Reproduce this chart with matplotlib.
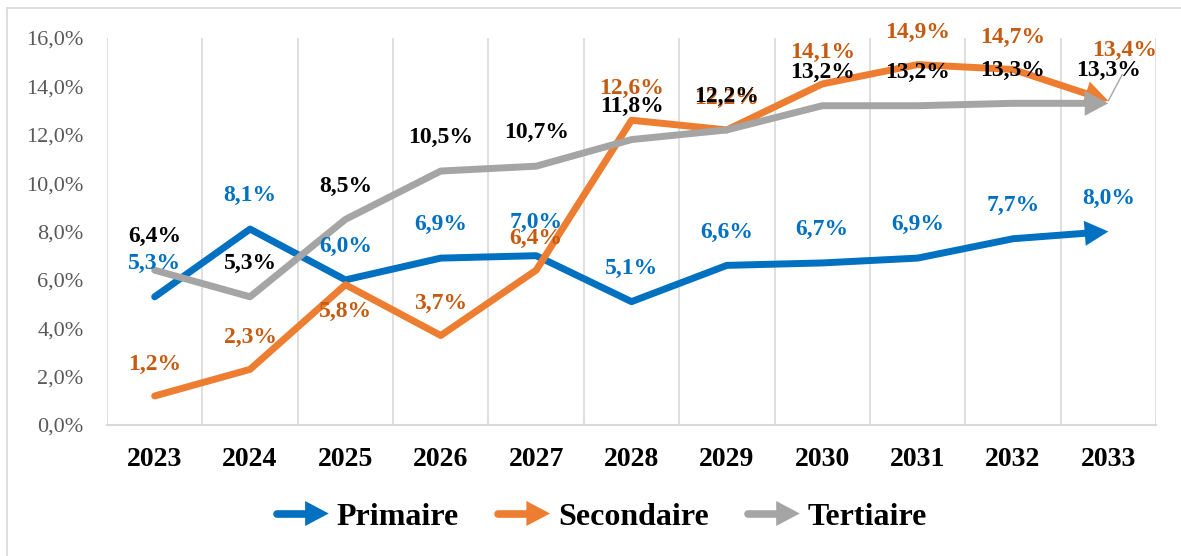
import matplotlib
matplotlib.use("Agg")
import matplotlib.pyplot as plt
from matplotlib.patches import FancyArrowPatch
from matplotlib.legend_handler import HandlerBase
from matplotlib.lines import Line2D

plt.rcParams['font.family'] = ['Liberation Serif', 'DejaVu Serif']

years = ['2023', '2024', '2025', '2026', '2027', '2028', '2029', '2030', '2031', '2032', '2033']
primaire = [5.3, 8.1, 6.0, 6.9, 7.0, 5.1, 6.6, 6.7, 6.9, 7.7, 8.0]
secondaire = [1.2, 2.3, 5.8, 3.7, 6.4, 12.6, 12.2, 14.1, 14.9, 14.7, 13.4]
tertiaire = [6.4, 5.3, 8.5, 10.5, 10.7, 11.8, 12.2, 13.2, 13.2, 13.3, 13.3]
y_ticks = [0, 2, 4, 6, 8, 10, 12, 14, 16]

BLUE = '#0070C0'
ORANGE = '#ED7D31'
GRAY = '#A5A5A5'
ORANGE_TXT = '#C55A11'

LW = 5.0
ARROW = 'simple,head_length=17,head_width=18,tail_width=%.1f' % LW
LEG_ARROW = 'simple,head_length=17,head_width=18,tail_width=0.1'


class ArrowHandler(HandlerBase):
    # legend key drawn as a thick line ending in an arrow head
    def create_artists(self, legend, orig_handle, xdescent, ydescent,
                       width, height, fontsize, trans):
        y = height / 2.0 - ydescent
        line = Line2D([-xdescent + 3, -xdescent + width * 0.6], [y, y],
                      color=orig_handle.get_color(), lw=LW + 0.5,
                      solid_capstyle='round', transform=trans)
        arr = FancyArrowPatch((-xdescent + width * 0.4, y), (-xdescent + width, y),
                              arrowstyle=LEG_ARROW, mutation_scale=1,
                              color=orig_handle.get_color(), lw=0,
                              shrinkA=0, shrinkB=0, transform=trans)
        return [line, arr]


fig = plt.figure(figsize=(11.81, 5.56), dpi=100)
ax = fig.add_axes([107 / 1181, 131 / 556, 1049 / 1181, 387 / 556])

x = list(range(len(years)))
handles = []
for vals, col, name in [(primaire, BLUE, 'Primaire'),
                        (secondaire, ORANGE, 'Secondaire'),
                        (tertiaire, GRAY, 'Tertiaire')]:
    h, = ax.plot(x[:-1], vals[:-1], color=col, lw=LW,
                 solid_capstyle='round', solid_joinstyle='round', label=name)
    ax.add_patch(FancyArrowPatch((x[-2], vals[-2]), (x[-1], vals[-1]),
                                 arrowstyle=ARROW, mutation_scale=1,
                                 color=col, lw=0, shrinkA=0, shrinkB=0))
    handles.append(h)

# thin leader line to the last Secondaire label
ax.annotate('', xy=(x[-1], secondaire[-1]), xytext=(10, 19),
            textcoords='offset points',
            arrowprops=dict(arrowstyle='-', color=GRAY, lw=1, shrinkA=0, shrinkB=0))


def lab(v):
    return ('%.1f' % v).replace('.', ',') + '%'


for i, v in enumerate(primaire):
    ax.annotate(lab(v), (i, v), xytext=(0, 24), textcoords='offset points',
                ha='center', va='center', fontsize=17, fontweight='bold', color=BLUE)

sec_off = {2: (0, -19), 10: (12, 36)}
for i, v in enumerate(secondaire):
    ax.annotate(lab(v), (i, v), xytext=sec_off.get(i, (0, 23)), textcoords='offset points',
                ha='center', va='center', fontsize=17, fontweight='bold', color=ORANGE_TXT)

for i, v in enumerate(tertiaire):
    ax.annotate(lab(v), (i, v), xytext=(0, 24), textcoords='offset points',
                ha='center', va='center', fontsize=17, fontweight='bold', color='black')

ax.set_xlim(-0.5, len(years) - 0.5)
ax.set_ylim(0, 16)
ax.set_xticks(x)
ax.set_xticklabels(years, fontsize=20, fontweight='bold')
ax.set_xticks([i - 0.5 for i in range(len(years) + 1)], minor=True)
ax.set_yticks(y_ticks)
ax.set_yticklabels([lab(t) for t in y_ticks], fontsize=16, color='#595959')
ax.tick_params(axis='both', which='both', length=0)
ax.tick_params(axis='x', pad=16)
ax.tick_params(axis='y', pad=17)
ax.grid(axis='x', which='minor', color='#D9D9D9', lw=1.2)
ax.set_axisbelow(True)
for s in ['top', 'left', 'right']:
    ax.spines[s].set_visible(False)
ax.spines['bottom'].set_color('#D9D9D9')
ax.spines['bottom'].set_linewidth(1.5)

leg = fig.legend(handles=handles, handler_map={Line2D: ArrowHandler()},
                 loc='center', bbox_to_anchor=(600 / 1181, 1 - 517 / 556),
                 ncol=3, frameon=False, handlelength=1.75, handletextpad=0.25,
                 columnspacing=1.1, prop={'size': 23, 'weight': 'bold'})

# outer chart frame
fig.add_artist(Line2D([7 / 1181, 7 / 1181], [0, 1 - 8 / 556], color='#D9D9D9', lw=1.2))
fig.add_artist(Line2D([7 / 1181, 1], [1 - 8 / 556, 1 - 8 / 556], color='#D9D9D9', lw=1.2))

fig.savefig('out.png', dpi=100)
